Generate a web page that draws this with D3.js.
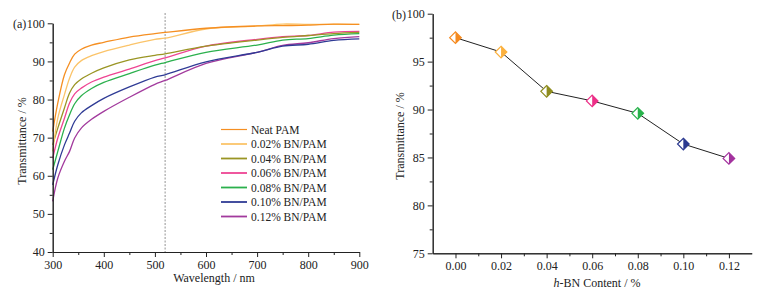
<!DOCTYPE html>
<html>
<head>
<meta charset="utf-8">
<script src="https://cdn.jsdelivr.net/npm/d3@7"></script>
<style>
  body { margin: 0; background: #fff; }
  text { font-family: "Liberation Serif", "DejaVu Serif", serif; fill: #222; }
  .axis path, .axis line { stroke: #222; }
</style>
</head>
<body>
<script>
// wavelength grid (nm) used for every spectrum
const wavelengths = [300, 310, 323, 333, 343, 356, 376, 400, 450, 500, 520, 600, 700, 750, 800, 850, 900];
const neatPAM  = [71.6, 79.1, 86.5, 89.6, 91.9, 93.2, 94.3, 95.0, 96.4, 97.3, 97.6, 98.7, 99.3, 99.4, 99.5, 99.8, 99.7];
const bn002    = [66.4, 75.1, 81.3, 85.6, 88.5, 90.2, 91.5, 92.6, 94.3, 95.8, 96.1, 98.5, 99.3, 99.8, 99.7, 99.7, 99.7];
const bn004    = [68.1, 72.5, 77.8, 81.7, 83.9, 85.4, 86.9, 88.3, 90.4, 91.6, 92.0, 94.0, 95.6, 96.3, 96.8, 97.3, 97.6];
const bn006    = [64.6, 69.9, 75.1, 79.1, 81.5, 83.0, 84.6, 85.9, 88.0, 90.2, 90.9, 94.0, 95.8, 96.5, 96.8, 97.7, 97.9];
const bn008    = [61.6, 66.4, 72.5, 76.0, 78.9, 81.0, 82.9, 84.5, 86.8, 89.0, 89.7, 92.4, 94.3, 95.6, 96.0, 96.9, 97.3];
const bn010    = [57.6, 62.9, 68.1, 71.2, 74.3, 76.5, 78.4, 80.3, 83.3, 85.9, 86.5, 89.9, 92.4, 94.0, 94.5, 95.5, 95.9];
const bn012    = [53.3, 59.4, 63.8, 66.4, 69.9, 72.5, 74.8, 76.9, 80.6, 84.0, 85.0, 89.5, 92.4, 94.2, 94.9, 96.0, 96.5];

const seriesNames = ["Neat PAM", "0.02% BN/PAM", "0.04% BN/PAM", "0.06% BN/PAM", "0.08% BN/PAM", "0.10% BN/PAM", "0.12% BN/PAM"];
const seriesValues = [neatPAM, bn002, bn004, bn006, bn008, bn010, bn012];
const lineColors = ["#f58f22", "#fbc46a", "#9a9524", "#ee4593", "#2bb04d", "#2f3b95", "#a23a9d"];
const markerColors = ["#f58a1f", "#fbb13f", "#8e8c1e", "#ec2f87", "#28b24b", "#2b3990", "#a3329e"];

// panel (b): transmittance at 520 nm
const contents = [0.00, 0.02, 0.04, 0.06, 0.08, 0.10, 0.12];
const trans520 = [97.5, 96.0, 91.9, 90.9, 89.6, 86.4, 84.9];

const yTicksA = [40, 50, 60, 70, 80, 90, 100];
const xTicksA = [300, 400, 500, 600, 700, 800, 900];
const yTicksB = [75, 80, 85, 90, 95, 100];
const xTicksB = [0.00, 0.02, 0.04, 0.06, 0.08, 0.10, 0.12];

const width = 762, height = 298;
const svg = d3.select("body").append("svg")
    .attr("width", width)
    .attr("height", height);

function drawAxes(x, y, xTicks, xMinor, yTicks, yMinor, xFmt, yFmt) {
    svg.append("g").attr("class", "axis")
        .attr("transform", `translate(0,${y.range()[0]})`)
        .call(d3.axisBottom(x).tickValues(xMinor).tickSize(3).tickSizeOuter(0).tickFormat(""));
    svg.append("g").attr("class", "axis")
        .attr("transform", `translate(0,${y.range()[0]})`)
        .call(d3.axisBottom(x).tickValues(xTicks).tickSize(5).tickSizeOuter(0).tickPadding(3).tickFormat(xFmt))
        .selectAll("text").style("font-size", "12px");
    svg.append("g").attr("class", "axis")
        .attr("transform", `translate(${x.range()[0]},0)`)
        .call(d3.axisLeft(y).tickValues(yMinor).tickSize(3).tickSizeOuter(0).tickFormat(""));
    svg.append("g").attr("class", "axis")
        .attr("transform", `translate(${x.range()[0]},0)`)
        .call(d3.axisLeft(y).tickValues(yTicks).tickSize(5).tickSizeOuter(0).tickPadding(3).tickFormat(yFmt))
        .selectAll("text").style("font-size", "12px");
    svg.selectAll(".axis path.domain").attr("stroke-width", 1);
}

// ---------- panel (a) ----------
const xA = d3.scaleLinear().domain([300, 900]).range([52.7, 359.3]);
const yA = d3.scaleLinear().domain([40, 100]).range([252, 23.3]);

// dashed marker at 520 nm
svg.append("line")
    .attr("x1", xA(520)).attr("x2", xA(520))
    .attr("y1", yA(102.7)).attr("y2", yA(40))
    .attr("stroke", "#777").attr("stroke-width", 0.8)
    .attr("stroke-dasharray", "2,1.5");

const lineA = d3.line()
    .x((d, i) => xA(wavelengths[i]))
    .y(d => yA(d))
    .curve(d3.curveCatmullRom.alpha(0.5));

svg.append("g").selectAll("path")
    .data(seriesValues.map((v, i) => ({ v, i })).reverse())
    .enter().append("path")
    .attr("d", d => lineA(d.v))
    .attr("fill", "none")
    .attr("stroke", d => lineColors[d.i])
    .attr("stroke-width", 1.3);

drawAxes(xA, yA, xTicksA, d3.range(350, 900, 100), yTicksA, d3.range(45, 100, 10), d3.format("d"), d3.format("d"));

svg.append("text").attr("x", 13).attr("y", 28).style("font-size", "12px").text("(a)");
svg.append("text")
    .attr("x", 214).attr("y", 282)
    .attr("text-anchor", "middle").style("font-size", "12px")
    .text("Wavelength / nm");
svg.append("text")
    .attr("transform", "translate(26,141) rotate(-90)")
    .attr("text-anchor", "middle").style("font-size", "12px")
    .text("Transmittance / %");

// legend
const legend = svg.append("g").attr("transform", "translate(221,129.5)");
seriesNames.forEach((name, i) => {
    const row = legend.append("g").attr("transform", `translate(0,${i * 14.5})`);
    row.append("line")
        .attr("x1", 0).attr("x2", 26)
        .attr("stroke", lineColors[i])
        .attr("stroke-width", i === 0 ? 1.2 : 1.8);
    row.append("text")
        .attr("x", 30).attr("dy", "0.35em")
        .style("font-size", "11.5px")
        .text(name);
});

// ---------- panel (b) ----------
const xB = d3.scaleLinear().domain([-0.01, 0.13]).range([432.7, 751.7]);
const yB = d3.scaleLinear().domain([75, 100]).range([253.3, 13.7]);

drawAxes(xB, yB, xTicksB, d3.range(0.01, 0.12, 0.02), yTicksB, d3.range(77.5, 100, 5), d3.format(".2f"), d3.format("d"));

const lineB = d3.line()
    .x((d, i) => xB(contents[i]))
    .y(d => yB(d));

svg.append("path")
    .attr("d", lineB(trans520))
    .attr("fill", "none")
    .attr("stroke", "#222")
    .attr("stroke-width", 1);

const r = 5.8;
const markers = svg.append("g").selectAll("g")
    .data(trans520.map((v, i) => ({ c: contents[i], v, i })))
    .enter().append("g")
    .attr("transform", d => `translate(${xB(d.c)},${yB(d.v)})`);
markers.append("path")
    .attr("d", `M0,${-r}L${r},0L0,${r}L${-r},0Z`)
    .attr("fill", "#fff");
markers.append("path")
    .attr("d", `M0,${-r}L${r},0L0,${r}Z`)
    .attr("fill", d => markerColors[d.i]);
markers.append("path")
    .attr("d", `M0,${-r}L${r},0L0,${r}L${-r},0Z`)
    .attr("fill", "none")
    .attr("stroke", d => markerColors[d.i])
    .attr("stroke-width", 1.2);

svg.append("text").attr("x", 392).attr("y", 19).style("font-size", "12px").text("(b)");
const xl = svg.append("text")
    .attr("x", 597).attr("y", 287)
    .attr("text-anchor", "middle").style("font-size", "12px");
xl.append("tspan").style("font-style", "italic").text("h");
xl.append("tspan").text("-BN Content / %");
svg.append("text")
    .attr("transform", "translate(404,136) rotate(-90)")
    .attr("text-anchor", "middle").style("font-size", "12px")
    .text("Transmittance / %");
</script>
</body>
</html>
